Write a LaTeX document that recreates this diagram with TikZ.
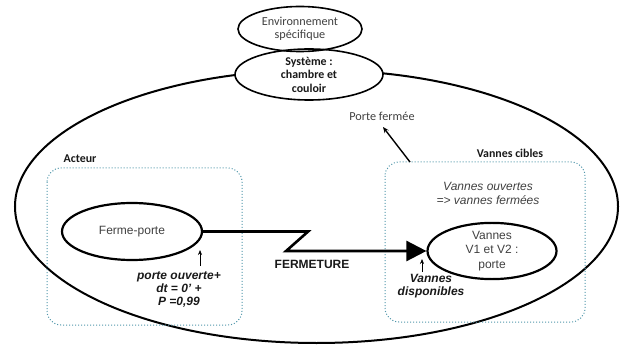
\documentclass[tikz,border=0pt]{standalone}
\usepackage{fontspec}
\setmainfont{Liberation Sans}
\newfontfamily\calfont{Carlito}
\usetikzlibrary{arrows.meta,shapes.geometric}
\definecolor{boxc}{RGB}{80,150,170}
\definecolor{txtg}{RGB}{64,64,64}
\tikzset{
  ell/.style={draw, ellipse, line width=1.6pt, inner sep=0pt, align=center},
  bigell/.style={draw, ellipse, line width=2pt, inner sep=0pt},
  dbox/.style={draw=boxc, dotted, line width=1pt, rounded corners=14pt},
  calt/.style={font=\calfont\fontsize{12.2}{12.5}\selectfont, text=txtg, align=center, inner sep=0pt},
  calb/.style={font=\calfont\bfseries\fontsize{11.9}{13.5}\selectfont, text=black!90, align=center, inner sep=0pt},
  ari/.style={font=\fontsize{12}{14.5}\selectfont, text=txtg, align=center, inner sep=0pt},
  aribi/.style={font=\bfseries\itshape\fontsize{12}{13}\selectfont, text=black!90, align=center, inner sep=0pt},
  smallarr/.style={line width=0.6pt, -{Stealth[length=5pt,width=4pt]}},
  flow/.style={line width=2.6pt, -{Triangle[length=20pt,width=20pt]}}
}
\begin{document}
\begin{tikzpicture}[x=1pt,y=-1pt]
\useasboundingbox (0,0) rectangle (623,347);
% system boundary
\node[bigell, minimum width=603pt, minimum height=273pt] (sysb) at (316.5,206.5) {};
% dotted boxes
\draw[dbox] (47,168) rectangle (242,325);
\draw[dbox] (385,162) rectangle (585,322);
% top ellipses
\node[ell, fill=white, calb, minimum width=148pt, minimum height=51pt] (sys) at (309,74.5) {Système :\\chambre et\\couloir};
\node[ell, calt, minimum width=124pt, minimum height=45pt] (env) at (300,29) {Environnement\\spécifique};
% labels
\node[calb] (acteur) at (80,159) {Acteur};
\node[calb] (vc) at (510,153) {Vannes cibles};
\node[calt] (pf) at (382,116) {Porte fermée};
% main ellipses
\node[ell, ari, line width=2.2pt, minimum width=140pt, minimum height=57pt] (fp) at (132,231.5) {Ferme-porte};
\node[ell, ari, line width=2.2pt, minimum width=129pt, minimum height=52pt] (vn) at (492,251) {Vannes\\V1 et V2 :\\porte};
% texts
\node[ari, font=\itshape\fontsize{12}{14}\selectfont] (vo) at (488,193) {Vannes ouvertes\\=> vannes fermées};
\node[ari, text=black!90, font=\bfseries\fontsize{12}{14}\selectfont] (fer) at (312,264) {FERMETURE};
\node[aribi] (po) at (179,289.5) {porte ouverte+\\dt = 0' +\\P =0,99};
\node[aribi] (vd) at (431,286.5) {Vannes\\disponibles};
% connector
\draw[flow] (fp.east) -- ++(105,0) -- ++(-22,19.5) -- (vn.west);
% small arrows
\coordinate (a1s) at (200,266);
\coordinate (a1e) at (200,250);
\draw[smallarr] (a1s) -- (a1e);
\coordinate (a2s) at (422,272);
\coordinate (a2e) at (422,259);
\draw[smallarr] (a2s) -- (a2e);
% porte fermee arrow
\coordinate (pfs) at (410,162);
\coordinate (pfe) at (383,127);
\draw[line width=1.4pt, -{Stealth[length=6pt,width=5pt]}] (pfs) -- (pfe);
\end{tikzpicture}
\end{document}
